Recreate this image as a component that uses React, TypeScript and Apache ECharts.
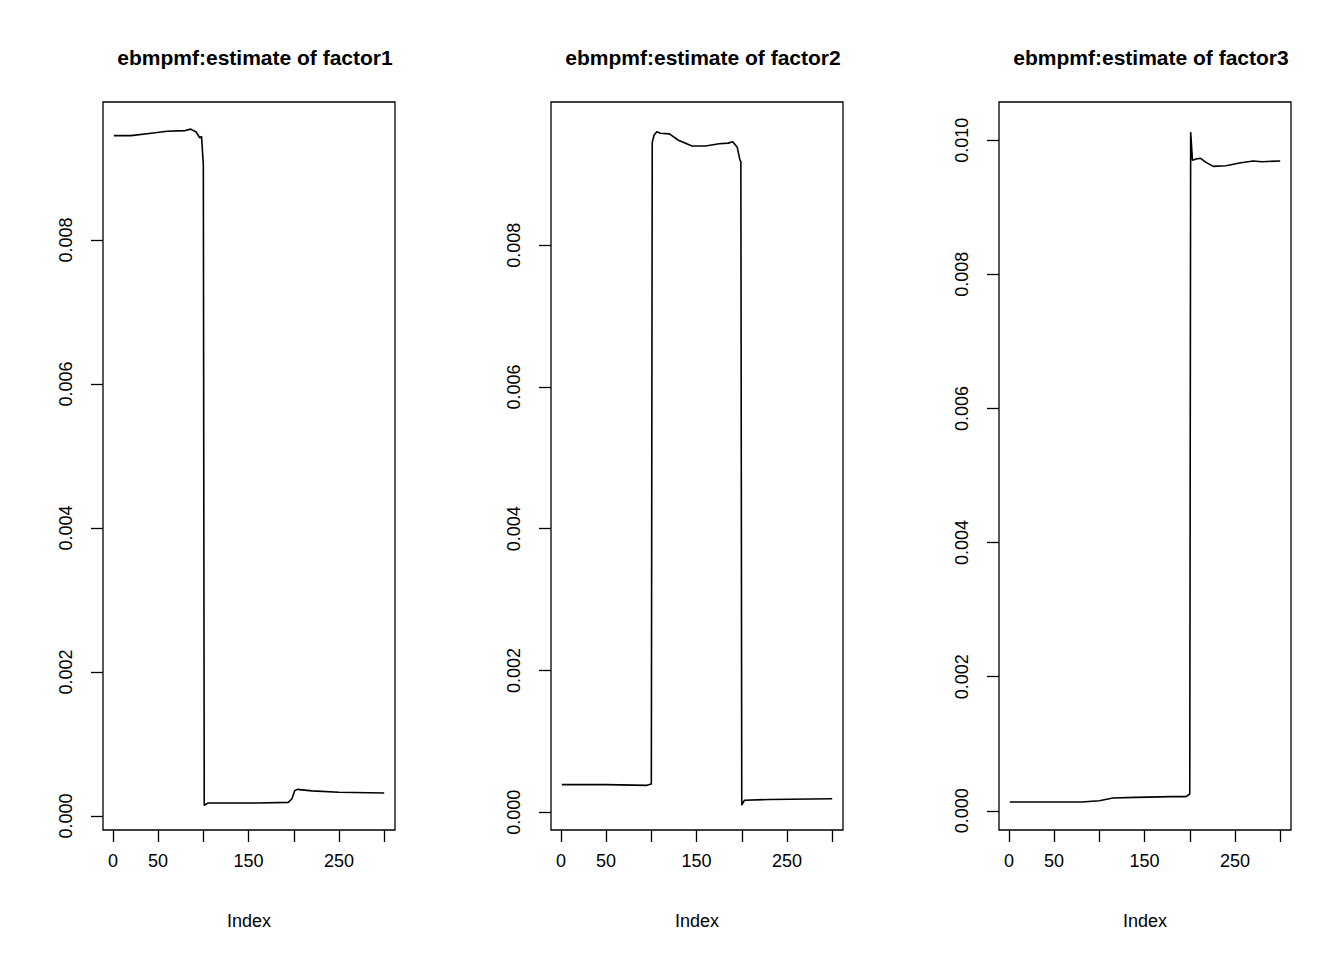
import React, { useEffect, useRef } from 'react';
import * as echarts from 'echarts';

const titles = ['ebmpmf:estimate of factor1', 'ebmpmf:estimate of factor2', 'ebmpmf:estimate of factor3'];
const xTicks = [0, 50, 100, 150, 200, 250, 300];
const xLabels = [0, 50, 150, 250];
const yTicks1 = [0, 0.002, 0.004, 0.006, 0.008];
const yTicks2 = [0, 0.002, 0.004, 0.006, 0.008];
const yTicks3 = [0, 0.002, 0.004, 0.006, 0.008, 0.01];

const factor1 = [
  [1, 0.00945], [20, 0.00945], [40, 0.00948], [60, 0.00951], [80, 0.00952], [86, 0.00954],
  [92, 0.00950], [96, 0.00942], [98, 0.00944], [100, 0.00905], [101, 0.00015], [105, 0.00018],
  [120, 0.00018], [160, 0.00018], [194, 0.00019], [198, 0.00024], [201, 0.00035], [204, 0.00037],
  [220, 0.00035], [250, 0.00033], [300, 0.00032],
];
const factor2 = [
  [1, 0.00039], [50, 0.00039], [95, 0.00038], [100, 0.0004], [101, 0.00945], [103, 0.00955],
  [106, 0.00960], [110, 0.00958], [120, 0.00957], [130, 0.00948], [145, 0.00940], [160, 0.00940],
  [175, 0.00943], [185, 0.00944], [190, 0.00946], [195, 0.00938], [198, 0.00920], [199, 0.00918],
  [200, 0.00010], [203, 0.00017], [230, 0.00018], [300, 0.00019],
];
const factor3 = [
  [1, 0.00013], [40, 0.00013], [80, 0.00013], [100, 0.00015], [115, 0.00019], [140, 0.0002],
  [180, 0.00021], [196, 0.00021], [200, 0.00025], [201, 0.01012], [203, 0.0097], [207, 0.00972],
  [212, 0.00973], [218, 0.00967], [226, 0.00961], [240, 0.00962], [255, 0.00966], [270, 0.00969],
  [280, 0.00968], [300, 0.00969],
];
const series = [factor1, factor2, factor3];
const yTicks = [yTicks1, yTicks2, yTicks3];
const yRanges = [[-0.000194, 0.009917], [-0.00025, 0.01002], [-0.000287, 0.01057]];

const lefts = [95, 543, 991];

export default function App() {
  const ref = useRef<HTMLDivElement>(null);
  useEffect(() => {
    if (!ref.current) return;
    const chart = echarts.init(ref.current, null, { renderer: 'svg' });
    const font = 'Liberation Sans';
    chart.setOption({
      animation: false,
      backgroundColor: '#fff',
      textStyle: { fontFamily: font },
      title: titles.map((t, i) => ({
        text: t,
        left: lefts[i] + 147,
        top: 34,
        textAlign: 'center',
        textStyle: { fontFamily: font, fontWeight: 'bold', fontSize: 21, color: '#000' },
      })),
      grid: lefts.map((l) => ({
        left: l, top: 94, width: 292, height: 728, show: true,
        borderColor: '#000', borderWidth: 1.3, backgroundColor: 'transparent',
      })),
      xAxis: lefts.map((_, i) => ({
        type: 'value', gridIndex: i, min: -10.96, max: 311.96,
        name: 'Index', nameLocation: 'middle', nameGap: 82,
        nameTextStyle: { fontFamily: font, fontSize: 18, color: '#000' },
        axisLine: { show: false, onZero: false },
        axisTick: { show: true, inside: false, customValues: xTicks, length: 12, lineStyle: { color: '#000', width: 1.3 } },
        axisLabel: { customValues: xLabels, margin: 22, fontSize: 18, color: '#000', fontFamily: font },
        splitLine: { show: false },
      })),
      yAxis: lefts.map((_, i) => ({
        type: 'value', gridIndex: i, min: yRanges[i][0], max: yRanges[i][1],
        axisLine: { show: false, onZero: false },
        axisTick: { show: true, inside: false, customValues: yTicks[i], length: 12, lineStyle: { color: '#000', width: 1.3 } },
        axisLabel: {
          customValues: yTicks[i], rotate: 90, margin: 28, fontSize: 18, color: '#000', fontFamily: font,
          formatter: (v: number) => v.toFixed(3),
        },
        splitLine: { show: false },
      })),
      series: series.map((d, i) => ({
        type: 'line', xAxisIndex: i, yAxisIndex: i, data: d, showSymbol: false,
        lineStyle: { color: '#000', width: 1.6 },
      })),
    });
    return () => chart.dispose();
  }, []);
  return <div ref={ref} style={{ width: 1328, height: 944 }} />;
}
